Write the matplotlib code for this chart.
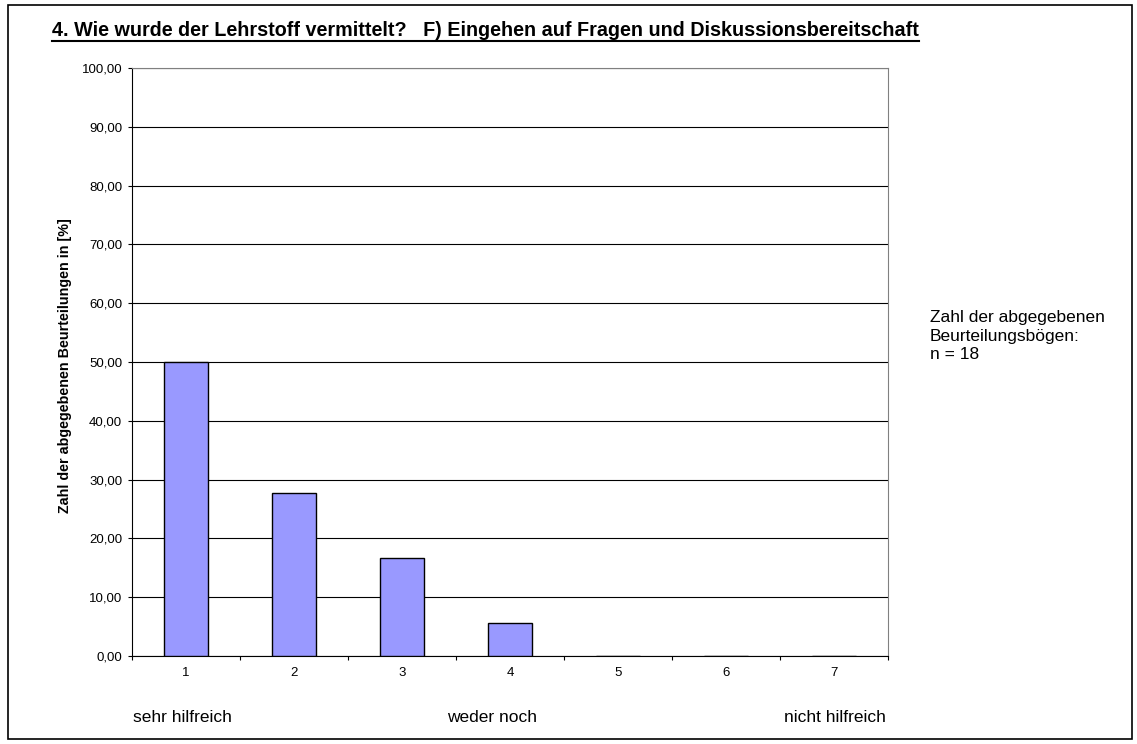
import matplotlib
matplotlib.use("Agg")
import matplotlib.pyplot as plt
from matplotlib.patches import Rectangle
import numpy as np

categories = ["1", "2", "3", "4", "5", "6", "7"]
values = [50.00, 27.78, 16.67, 5.56, 0.0, 0.0, 0.0]
yticks = [0, 10, 20, 30, 40, 50, 60, 70, 80, 90, 100]
title = "4. Wie wurde der Lehrstoff vermittelt?   F) Eingehen auf Fragen und Diskussionsbereitschaft"
ylabel = "Zahl der abgegebenen Beurteilungen in [%]"
note = "Zahl der abgegebenen\nBeurteilungsbögen:\nn = 18"
scale_labels = ["sehr hilfreich", "weder noch", "nicht hilfreich"]

plt.rcParams['font.family'] = ['Liberation Sans', 'DejaVu Sans']

W, H = 1137, 744
fig = plt.figure(figsize=(W/100, H/100), dpi=100)
fig.patches.append(Rectangle((8/W, 1-739/H), (1132-8)/W, (739-5)/H, transform=fig.transFigure,
                             fill=False, edgecolor='black', linewidth=1.2))

ax = fig.add_axes([132/W, 1-656/H, (888-132)/W, (656-68)/H])
x = np.arange(len(categories))
ax.bar(x, values, width=0.4, color='#9999FF', edgecolor='black', linewidth=1.0, zorder=3)
ax.set_xlim(-0.5, len(categories)-0.5)
ax.set_ylim(0, 100)
ax.set_yticks(yticks)
ax.set_yticklabels([f"{v:.2f}".replace('.', ',') for v in yticks], fontsize=9.5)
ax.yaxis.grid(True, color='black', linewidth=0.8, zorder=0)
ax.set_axisbelow(True)
ax.set_xticks(np.arange(-0.5, len(categories)), minor=False)
ax.set_xticklabels([])
ax.set_xticks(x, minor=True)
ax.set_xticklabels(categories, minor=True, fontsize=9.5)
ax.tick_params(axis='x', which='minor', length=0, pad=8)
ax.tick_params(axis='x', which='major', length=3, direction='out')
ax.tick_params(axis='y', length=3, direction='out', pad=4)
for s in ['top', 'right']:
    ax.spines[s].set_color('#808080')
for s in ['left', 'bottom']:
    ax.spines[s].set_color('black')

fig.text(65/W, 1-366/H, ylabel, fontsize=10.3, fontweight='bold', rotation=90,
         va='center', ha='center')

fig.text(52/W, 1-30/H, title, fontsize=14.2, fontweight='bold', va='center', ha='left')
# underline title
fig.canvas.draw()
t = fig.texts[-1]
bb = t.get_window_extent()
fig.add_artist(plt.Line2D([bb.x0/W, bb.x1/W], [(bb.y0-1)/H, (bb.y0-1)/H], transform=fig.transFigure,
                          color='black', linewidth=1.5))

fig.text(930/W, 1-310/H, note, fontsize=12.5, va='top', ha='left', linespacing=1.3)
fig.text(133/W, 1-717/H, scale_labels[0], fontsize=12.5, va='center', ha='left')
fig.text(447/W, 1-717/H, scale_labels[1], fontsize=12.5, va='center', ha='left')
fig.text(886/W, 1-717/H, scale_labels[2], fontsize=12.5, va='center', ha='right')

fig.savefig("out.png", dpi=100)
